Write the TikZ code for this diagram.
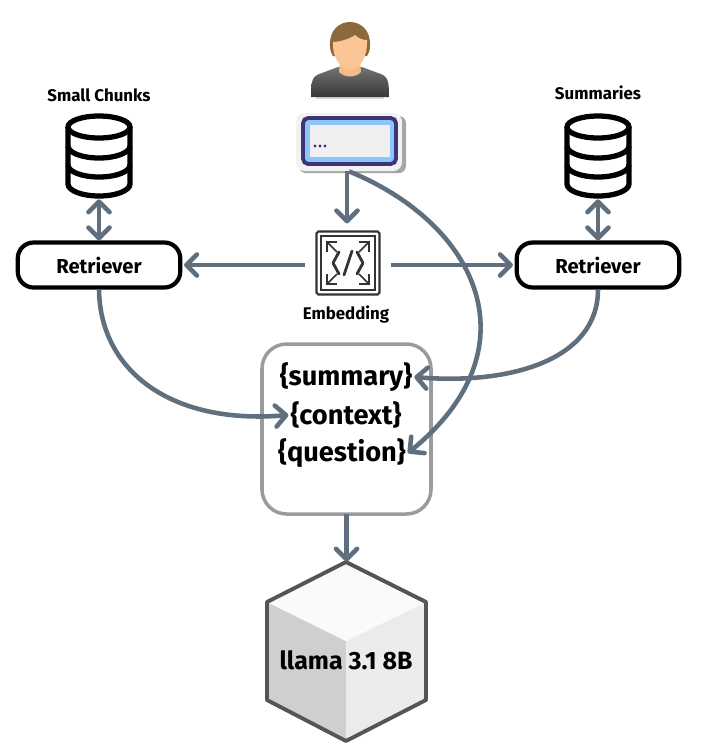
\documentclass[tikz,border=0pt]{standalone}
\usepackage{fontspec}
\setmainfont{Fira Sans}
\usepackage{xcolor}
\usetikzlibrary{arrows.meta,positioning,calc}
\definecolor{Slate}{HTML}{5F6F7E}
\definecolor{Frame}{HTML}{9B9B9B}
\definecolor{Edge}{HTML}{555555}
\definecolor{Indigo}{HTML}{3E3476}
\definecolor{Sky}{HTML}{8CC6FB}
\definecolor{Skin}{HTML}{FCC596}
\definecolor{Hair}{HTML}{8A6A3C}
\tikzset{
  link/.style={-{Straight Barb[length=6pt,width=12pt,round]},line width=2.6pt,Slate},
  both/.style={{Straight Barb[length=6pt,width=12pt,round]}-{Straight Barb[length=6pt,width=12pt,round]},line width=2.6pt,Slate},
  retrieverbox/.style={draw=black,line width=2.4pt,rounded corners=9pt,minimum width=3.25cm,minimum height=0.9cm,font=\bfseries\fontsize{11.5}{13}\selectfont},
  caption/.style={font=\bfseries\fontsize{9.6}{11}\selectfont},
  slot/.style={font=\bfseries\fontsize{15.5}{17}\selectfont,inner sep=1pt},
  blank/.style={minimum width=#1,minimum height=#1,inner sep=0pt},
  iconline/.style={black!80,line width=0.9pt,-{Straight Barb[length=4pt,width=8pt]}},
  iconglyph/.style={black!80,line width=1.6pt,line join=round,line cap=round},
}
\begin{document}
\begin{tikzpicture}[x=0.02cm,y=-0.02cm]
  \useasboundingbox (0,0) rectangle (703,752);
  % user
  \fill[black!15] (316,97) rectangle (384,99);
  \shade[top color=black!55,bottom color=black!78] (311,97) .. controls (311,80) and (312,76) .. (322,73) -- (338,67) -- (362,67) -- (378,73) .. controls (388,76) and (389,80) .. (389,97) -- cycle;
  \fill[Skin!85!brown] (340,60) -- (360,60) -- (361,72) .. controls (355,78) and (345,78) .. (339,72) -- cycle;
  \fill[Hair] (330,46) .. controls (328,14) and (372,14) .. (370,46) .. controls (370,52) and (368,54) .. (367,56) -- (333,56) .. controls (332,54) and (330,52) .. (330,46) -- cycle;
  \fill[Skin] (333,42) .. controls (340,42) and (352,38) .. (355,35) .. controls (358,38) and (362,40) .. (367,40) .. controls (368,56) and (360,70) .. (350,70) .. controls (340,70) and (332,56) .. (333,42) -- cycle;
  \node[blank=2cm,minimum height=1.5cm] (user) at (350,60) {};
  % input box
  \fill[black!35,rounded corners=4pt] (299,116) rectangle (406,173);
  \node[fill=black!5,rounded corners=5pt,minimum width=2.12cm,minimum height=1.16cm,inner sep=0pt] (input) at (349,142) {};
  \draw[Indigo,line width=2.2pt,fill=Sky,rounded corners=3pt] (303,118) rectangle (396,164);
  \fill[black!6] (310,125) rectangle (390,157);
  \foreach \x in {315,320,325} \fill[Indigo] (\x,146) circle (1.7);
  % databases
  \foreach \x/\name in {99/dbsmall,598/dbsum} {
    \node[blank=1.36cm,minimum height=1.72cm] (\name) at (\x,156) {};
    \draw[line width=3pt,fill=white] (\x-31,127) -- (\x-31,184) arc[start angle=180,end angle=0,x radius=31,y radius=12] -- (\x+31,127);
    \draw[line width=3pt] (\x,127) ellipse[x radius=31,y radius=11];
    \draw[line width=3pt] (\x-31,146) arc[start angle=180,end angle=0,x radius=31,y radius=12];
    \draw[line width=3pt] (\x-31,165) arc[start angle=180,end angle=0,x radius=31,y radius=12];
  }
  \node[caption] (smallcap) at (99,95) {Small Chunks};
  \node[caption] (sumcap) at (598,93) {Summaries};
  % retrievers
  \node[retrieverbox] (retrieverA) at (99,265) {Retriever};
  \node[retrieverbox] (retrieverB) at (598,265) {Retriever};
  % embedding icon
  \node[draw=black!80,line width=1.2pt,rounded corners=1pt,blank=1.26cm] (embed) at (348,263) {};
  \draw[black!80,line width=1.2pt] (321,236) rectangle (375,290);
  \draw[iconline] (337,252) -- (326,241);
  \draw[iconline] (359,252) -- (370,241);
  \draw[iconline] (337,274) -- (326,285);
  \draw[iconline] (359,274) -- (370,285);
  \draw[iconglyph] (339,252) -- (333,263) -- (339,274);
  \draw[iconglyph] (357,252) -- (363,263) -- (357,274);
  \draw[iconglyph] (352,251) -- (344,275);
  \node[caption] (embedcap) at (346,315) {Embedding};
  % prompt
  \draw[Frame,line width=2pt,fill=white,rounded corners=14pt] (262,344) rectangle (431,514);
  \node[blank=3.38cm] (prompt) at (346.5,429) {};
  \node[slot] (summary) at (346,377) {\{summary\}};
  \node[slot] (context) at (346,415) {\{context\}};
  \node[slot] (question) at (342,453) {\{question\}};
  % model
  \node[blank=3.2cm,minimum height=3.58cm] (model) at (346.5,651.5) {};
  \fill[black!19] (267,602) -- (346,641) -- (346,741) -- (267,700) -- cycle;
  \fill[black!8] (426,602) -- (346,641) -- (346,741) -- (426,700) -- cycle;
  \fill[black!2] (267,602) -- (346,562) -- (426,602) -- (346,641) -- cycle;
  \draw[Edge,line width=2.2pt,line join=round] (346,562) -- (426,602) -- (426,700) -- (346,741) -- (267,700) -- (267,602) -- cycle;
  \node[font=\bfseries\fontsize{14.2}{17}\selectfont] (modelname) at (346,660) {llama 3.1 8B};
  % connectors
  \draw[both] (dbsmall.south) -- (retrieverA.north);
  \draw[both] (dbsum.south) -- (retrieverB.north);
  \draw[link,shorten >=4pt] ($(input.south)+(-2,0)$) -- ($(input.south |- embed.north)+(-2,0)$);
  \draw[link,shorten <=5.7pt,shorten >=1pt] (embed.west |- retrieverA.east) -- (retrieverA.east);
  \draw[link,shorten <=5.7pt,shorten >=1pt] (embed.east |- retrieverB.west) -- (retrieverB.west);
  \draw[link] (retrieverA.south) .. controls (100,370) and (170,425) .. (context.west);
  \draw[link] (retrieverB.south) .. controls (598,360) and (510,385) .. (summary.east);
  \draw[link] (input.south) .. controls (480,225) and (535,350) .. (question.east);
  \draw[link] (prompt.south) -- (model.north);
\end{tikzpicture}
\end{document}
